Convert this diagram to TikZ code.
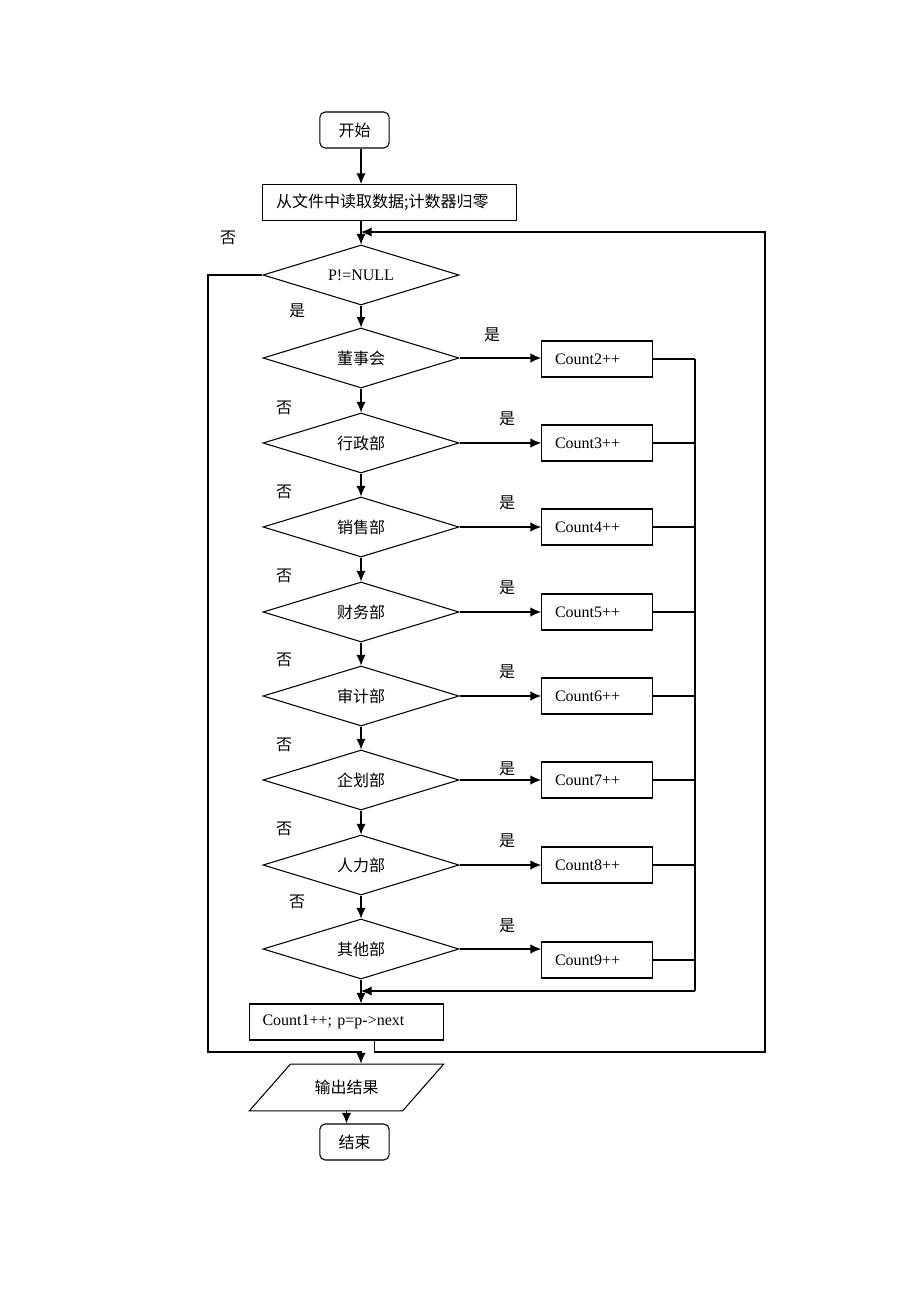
\documentclass[tikz,border=0pt,12pt]{standalone}
\usepackage{fontspec}
\setmainfont{Liberation Serif}
\newfontfamily\cjk{Noto Sans CJK SC}
\usetikzlibrary{shapes.geometric, arrows.meta, positioning}

\tikzset{
  startstop/.style={rectangle, rounded corners=4pt, draw, minimum width=52pt, minimum height=27pt, font=\cjk},
  process/.style={rectangle, draw, minimum height=27pt, align=left, inner xsep=10pt},
  countbox/.style={process, text width=63pt},
  decision/.style={diamond, aspect=3.27, draw, minimum width=147pt, minimum height=45pt, inner sep=0pt, font=\cjk},
  io/.style={trapezium, trapezium left angle=43, trapezium right angle=137, trapezium stretches=true, draw, minimum width=146pt, minimum height=35pt, font=\cjk},
  tag/.style={font=\cjk},
  arrow/.style={-{Latex[length=8pt,width=7pt]}}
}

\begin{document}
\begin{tikzpicture}[x=0.75pt, y=-0.75pt, line width=0.8pt]
\useasboundingbox (0,0) rectangle (920,1302);

\node[startstop] (start) at (354.5,130) {开始};
\node[process, text width=170pt, font=\cjk] (read) at (389.5,202.5) {从文件中读取数据;计数器归零};
\node[decision, font=\rmfamily] (pnull) at (361,275) {P!=NULL};
\node[decision] (dsh) at (361,358) {董事会};
\node[decision] (xzb) at (361,443) {行政部};
\node[decision] (xsb) at (361,527) {销售部};
\node[decision] (cwb) at (361,612) {财务部};
\node[decision] (sjb) at (361,696) {审计部};
\node[decision] (qhb) at (361,780) {企划部};
\node[decision] (rlb) at (361,865) {人力部};
\node[decision] (qtb) at (361,949) {其他部};

\node[countbox] (c2) at (597,359) {Count2++};
\node[countbox] (c3) at (597,443) {Count3++};
\node[countbox] (c4) at (597,527) {Count4++};
\node[countbox] (c5) at (597,612) {Count5++};
\node[countbox] (c6) at (597,696) {Count6++};
\node[countbox] (c7) at (597,780) {Count7++};
\node[countbox] (c8) at (597,865) {Count8++};
\node[countbox] (c9) at (597,960) {Count9++};

\node[process, text width=126pt] (c1) at (346.5,1022) {Count1++; p=p->next};
\node[io] (out) at (346.5,1087.5) {输出结果};
\node[startstop] (stop) at (354.5,1142) {结束};

\coordinate (top) at (361,232);
\coordinate (bus) at (695,991);
\coordinate (rightcorner) at (765,1052);
\coordinate (leftcorner) at (208,1052);
\coordinate (join) at (361,1052);

% main line
\draw[arrow] (start.south -| pnull) -- (pnull |- read.north);
\draw[arrow] (read.south -| pnull) -- (pnull.north);
\draw[arrow] (pnull) -- (dsh);
\draw[arrow] (dsh) -- (xzb);
\draw[arrow] (xzb) -- (xsb);
\draw[arrow] (xsb) -- (cwb);
\draw[arrow] (cwb) -- (sjb);
\draw[arrow] (sjb) -- (qhb);
\draw[arrow] (qhb) -- (rlb);
\draw[arrow] (rlb) -- (qtb);
\draw[arrow] (qtb) -- (qtb |- c1.north);

% yes branches
\draw[arrow] (dsh.east) -- (dsh.east -| c2.west);
\draw[arrow] (xzb.east) -- (xzb.east -| c3.west);
\draw[arrow] (xsb.east) -- (xsb.east -| c4.west);
\draw[arrow] (cwb.east) -- (cwb.east -| c5.west);
\draw[arrow] (sjb.east) -- (sjb.east -| c6.west);
\draw[arrow] (qhb.east) -- (qhb.east -| c7.west);
\draw[arrow] (rlb.east) -- (rlb.east -| c8.west);
\draw[arrow] (qtb.east) -- (qtb.east -| c9.west);

\draw (c2.east) -- (c2.east -| bus);
\draw (c3.east) -- (c3.east -| bus);
\draw (c4.east) -- (c4.east -| bus);
\draw (c5.east) -- (c5.east -| bus);
\draw (c6.east) -- (c6.east -| bus);
\draw (c7.east) -- (c7.east -| bus);
\draw (c8.east) -- (c8.east -| bus);
\draw (c9.east) -- (c9.east -| bus);
\draw (c2.east -| bus) -- (bus);
\draw[arrow] (bus) -- (bus -| qtb);

% loop back and exit
\draw[arrow] ([xshift=21pt]c1.south) |- (rightcorner) |- (top);
\draw[arrow] (pnull.west) -| (leftcorner) -- (join) -- (out.north -| join);
\draw[arrow] (out.south) -- (out.south |- stop.north);

% labels
\node[tag] (no0) at (228,238) {否};
\node[tag] (yes0) at (297,311) {是};
\node[tag] (yes2) at (492,335) {是};
\node[tag] (yes3) at (507,419) {是};
\node[tag] (yes4) at (507,503) {是};
\node[tag] (yes5) at (507,588) {是};
\node[tag] (yes6) at (507,672) {是};
\node[tag] (yes7) at (507,769) {是};
\node[tag] (yes8) at (507,841) {是};
\node[tag] (yes9) at (507,926) {是};
\node[tag] (no2) at (284,408) {否};
\node[tag] (no3) at (284,492) {否};
\node[tag] (no4) at (284,576) {否};
\node[tag] (no5) at (284,660) {否};
\node[tag] (no6) at (284,745) {否};
\node[tag] (no7) at (284,829) {否};
\node[tag] (no8) at (297,902) {否};
\end{tikzpicture}
\end{document}
